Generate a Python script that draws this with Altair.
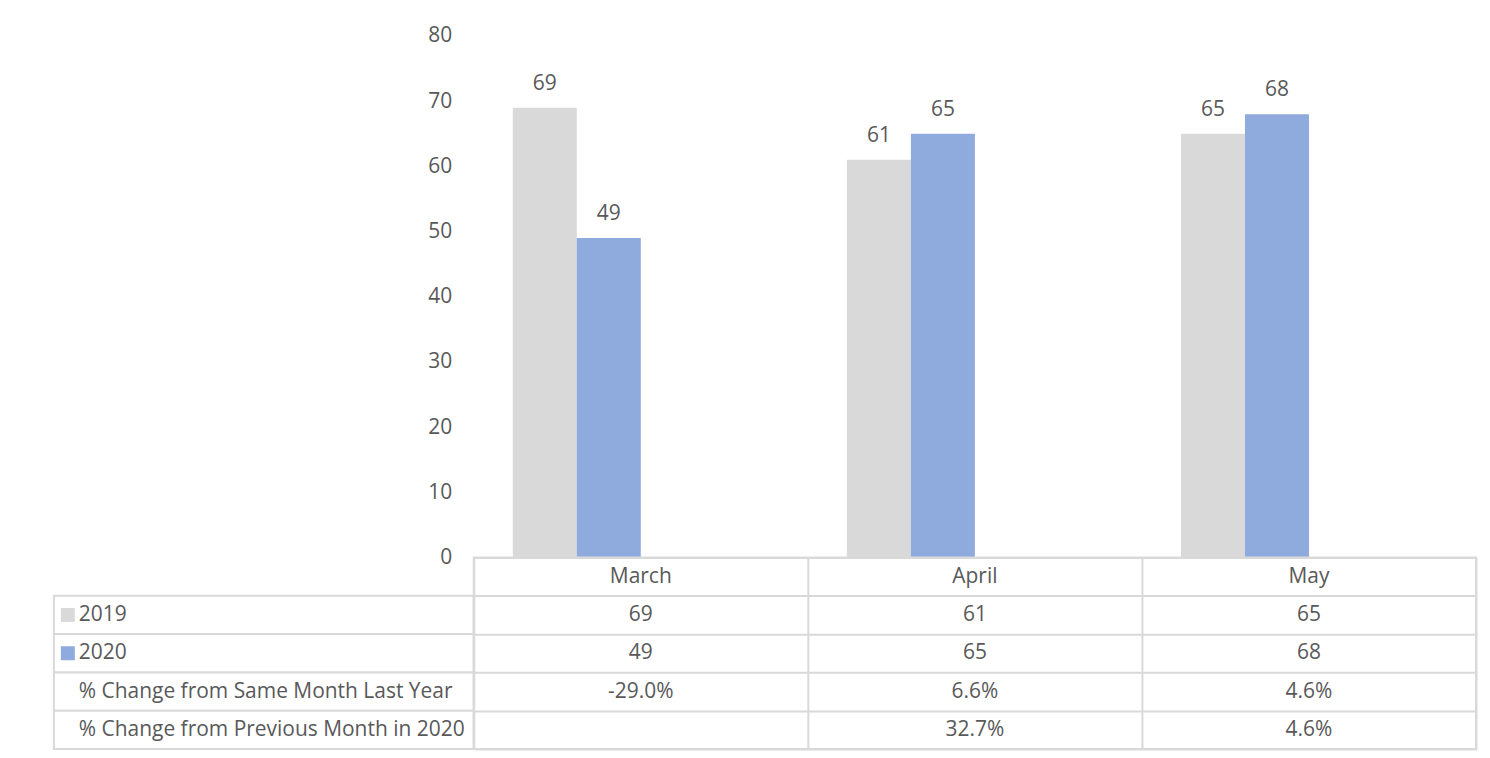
import altair as alt
import pandas as pd

# ---- data ----
months = ["March", "April", "May"]
values_2019 = [69, 61, 65]
values_2020 = [49, 65, 68]
pct_same_month = [-29.0, 6.6, 4.6]
pct_prev_month = [None, 32.7, 4.6]
series = ["2019", "2020",
          "% Change from Same Month Last Year",
          "% Change from Previous Month in 2020"]
y_ticks = [0, 10, 20, 30, 40, 50, 60, 70, 80]

# ---- styles ----
colors = ["#D9D9D9", "#8FAADC"]
FONT = "Open Sans"
TEXT = "#595959"
GRID = "#D9D9D9"
FS = 21

# ---- tables built from the lists ----
bar_rows = []
for m, a, b in zip(months, values_2019, values_2020):
    bar_rows.append({"Month": m, "Series": series[0], "Value": a})
    bar_rows.append({"Month": m, "Series": series[1], "Value": b})
bars_df = pd.DataFrame(bar_rows)


def fmt_pct(v):
    return "" if v is None else f"{v:.1f}%"


row_ids = ["header"] + series
table_rows = []
for i, m in enumerate(months):
    table_rows.append({"Month": m, "Row": "header", "Text": m})
    table_rows.append({"Month": m, "Row": series[0], "Text": str(values_2019[i])})
    table_rows.append({"Month": m, "Row": series[1], "Text": str(values_2020[i])})
    table_rows.append({"Month": m, "Row": series[2], "Text": fmt_pct(pct_same_month[i])})
    table_rows.append({"Month": m, "Row": series[3], "Text": fmt_pct(pct_prev_month[i])})
table_df = pd.DataFrame(table_rows)

label_df = pd.DataFrame({"Series": series})

# ---- scales ----
x_scale = alt.Scale(domain=months, paddingInner=0, paddingOuter=0)
offset_scale = alt.Scale(domain=series, paddingInner=0, paddingOuter=0.61)
color_scale = alt.Scale(domain=series[:2], range=colors)
row_scale = alt.Scale(domain=row_ids, paddingInner=0, paddingOuter=0)

PLOT_W = 1005
PLOT_H = 523
LEFT_W = 421
TABLE_H = 192
no_frame = alt.ViewBackground(strokeWidth=0)

# ---- bar chart ----
base = alt.Chart(bars_df).encode(
    x=alt.X("Month:N", scale=x_scale, sort=months, axis=None),
    xOffset=alt.XOffset("Series:N", scale=offset_scale, sort=series),
    y=alt.Y("Value:Q", scale=alt.Scale(domain=[0, 80]),
            axis=alt.Axis(values=y_ticks, grid=False, domain=False, ticks=False,
                          labelPadding=22, labelFontSize=FS, labelColor=TEXT,
                          labelFont=FONT, title=None)),
)
bars = base.mark_bar(strokeWidth=0).encode(
    color=alt.Color("Series:N", scale=color_scale, legend=None))
bar_labels = base.mark_text(baseline="alphabetic", dy=-18, fontSize=FS,
                            color=TEXT, font=FONT).encode(text="Value:Q")
bar_chart = alt.layer(bars, bar_labels).properties(
    width=PLOT_W, height=PLOT_H, view=no_frame)

spacer = alt.Chart(pd.DataFrame({"v": [0]})).mark_point(opacity=0).properties(
    width=LEFT_W, height=PLOT_H, view=no_frame)

# ---- data table ----
grid_axis = dict(labels=False, ticks=False, domain=False, grid=True,
                 gridColor=GRID, gridWidth=2, tickBand="extent", title=None)
table = alt.Chart(table_df).mark_text(fontSize=FS, color=TEXT, font=FONT).encode(
    x=alt.X("Month:N", scale=x_scale, sort=months, axis=alt.Axis(**grid_axis)),
    y=alt.Y("Row:N", scale=row_scale, sort=row_ids, axis=alt.Axis(**grid_axis)),
    text="Text:N",
).properties(width=PLOT_W, height=TABLE_H,
             view=alt.ViewBackground(stroke=GRID, strokeWidth=2))

lbase = alt.Chart(label_df).encode(
    y=alt.Y("Series:N", scale=row_scale, sort=row_ids, axis=None))
cells = lbase.mark_rect(fill="white", stroke=GRID, strokeWidth=2)
row_text = lbase.mark_text(align="left", fontSize=FS, color=TEXT, font=FONT).encode(
    x=alt.value(25), text="Series:N")
swatches = lbase.transform_filter(
    alt.FieldOneOfPredicate(field="Series", oneOf=series[:2])
).mark_square(size=196, opacity=1).encode(
    x=alt.value(14),
    color=alt.Color("Series:N", scale=color_scale, legend=None))
label_chart = alt.layer(cells, row_text, swatches).properties(
    width=LEFT_W, height=TABLE_H, view=no_frame)

chart = alt.concat(spacer, bar_chart, label_chart, table, columns=2,
                   spacing=0, bounds="flush").properties(
    padding={"left": 45, "top": 16, "right": 5, "bottom": 5}
).configure(background="white")

chart.save("out.html", embed_options={"renderer": "svg", "actions": False})
